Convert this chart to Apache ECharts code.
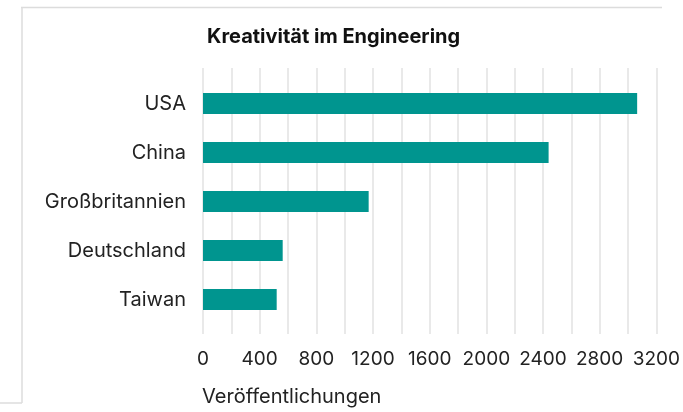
<!DOCTYPE html>
<html>
<head>
<meta charset="utf-8">
<script src="https://cdn.jsdelivr.net/npm/echarts@6/dist/echarts.min.js"></script>
<style>
  html, body { margin: 0; padding: 0; background: #fff; }
  #chart { width: 683px; height: 412px; }
</style>
</head>
<body>
<div id="chart"></div>
<script>
// Publications per country
const countries = ['USA', 'China', 'Großbritannien', 'Deutschland', 'Taiwan'];
const publications = [3040, 2420, 1160, 558, 516];
const xTicks = [0, 400, 800, 1200, 1600, 2000, 2400, 2800, 3200];

const chartTitle = 'Kreativität im Engineering';
const axisTitle = 'Veröffentlichungen';

const FONT = 'Inter, "Noto Sans", sans-serif';
const xMin = xTicks[0];
const xMax = xTicks[xTicks.length - 1];

const chart = echarts.init(document.getElementById('chart'), null, { renderer: 'canvas' });

chart.setOption({
  animation: false,
  backgroundColor: '#ffffff',
  title: [
    {
      text: chartTitle,
      left: 202,
      top: 22,
      textStyle: { fontFamily: FONT, fontSize: 20, fontWeight: 'bold', color: '#111' }
    },
    {
      text: axisTitle,
      left: 197,
      top: 382,
      textStyle: { fontFamily: FONT, fontSize: 20, fontWeight: 'normal', color: '#222' }
    }
  ],
  graphic: [
    // frame lines around the panel
    { type: 'line', shape: { x1: 21, y1: 7.5, x2: 662, y2: 7.5 }, style: { stroke: '#dcdcdc', lineWidth: 1.5 } },
    { type: 'line', shape: { x1: 22, y1: 7, x2: 22, y2: 403 }, style: { stroke: '#dcdcdc', lineWidth: 1.5 } },
    { type: 'line', shape: { x1: 0, y1: 403, x2: 22, y2: 403 }, style: { stroke: '#dcdcdc', lineWidth: 1.5 } }
  ],
  grid: [
    // grid carrying the vertical guide lines and tick labels
    { left: 203, right: 23, top: 68, bottom: 78, containLabel: false },
    // grid carrying the bars
    { left: 203, right: 23, top: 79, bottom: 88, containLabel: false }
  ],
  xAxis: [
    {
      gridIndex: 0,
      type: 'value',
      min: xMin,
      max: xMax,
      interval: 200,
      axisLine: { show: false },
      axisTick: { show: false },
      splitLine: { show: true, lineStyle: { color: '#e2e2e2', width: 1.5 } },
      axisLabel: {
        margin: 16,
        fontFamily: FONT,
        fontSize: 19,
        color: '#222',
        formatter: v => (xTicks.indexOf(v) >= 0 ? String(v) : '')
      }
    },
    {
      gridIndex: 1,
      type: 'value',
      min: xMin,
      max: xMax,
      show: false
    }
  ],
  yAxis: [
    {
      gridIndex: 0,
      type: 'category',
      data: countries,
      show: false
    },
    {
      gridIndex: 1,
      type: 'category',
      data: countries,
      inverse: true,
      axisLine: { show: false },
      axisTick: { show: false },
      splitLine: { show: false },
      axisLabel: {
        margin: 17,
        fontFamily: FONT,
        fontSize: 20,
        color: '#222'
      }
    }
  ],
  series: [
    {
      type: 'bar',
      xAxisIndex: 1,
      yAxisIndex: 1,
      data: publications,
      barWidth: 21,
      itemStyle: { color: '#00958f' }
    }
  ]
});
</script>
</body>
</html>
